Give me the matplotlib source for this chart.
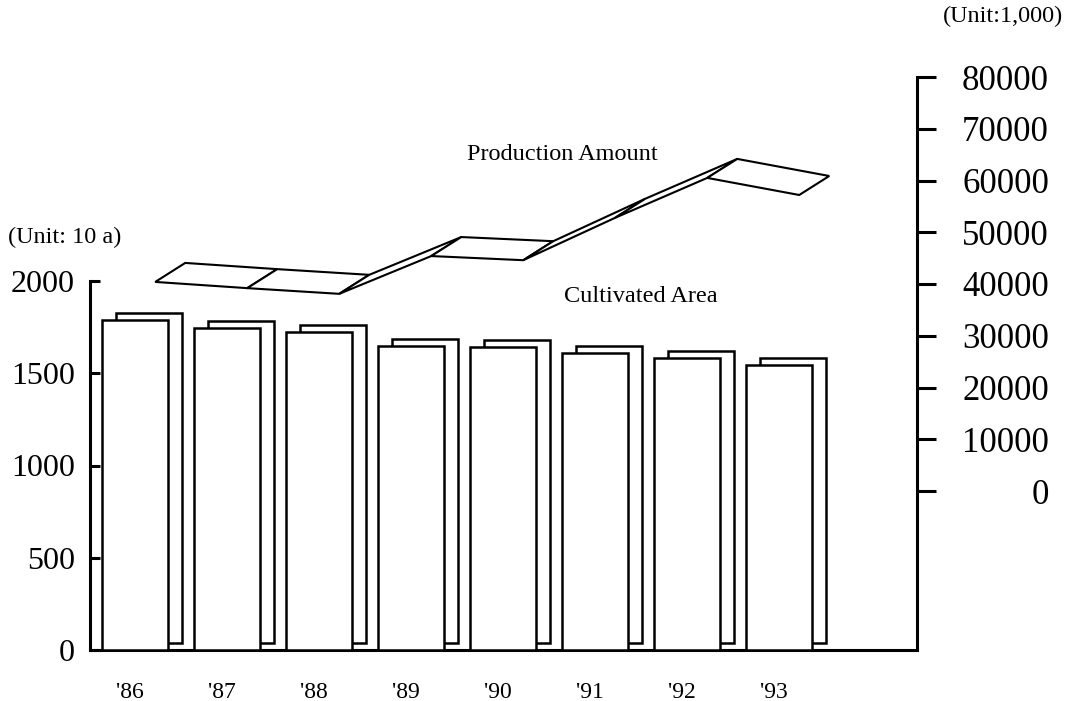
import matplotlib
matplotlib.use("Agg")
import matplotlib.pyplot as plt
import numpy as np
from matplotlib.patches import Rectangle, Polygon
from matplotlib.transforms import ScaledTranslation

# Data
years = ["'86", "'87", "'88", "'89", "'90", "'91", "'92", "'93"]
cultivated_area = [1790, 1745, 1725, 1650, 1640, 1610, 1585, 1545]          # unit: 10 a
production_amount = [40400, 39200, 38100, 45400, 44600, 52800, 60500, 57200]  # unit: 1,000
left_ticks = [0, 500, 1000, 1500, 2000]
right_ticks = [0, 10000, 20000, 30000, 40000, 50000, 60000, 70000, 80000]

plt.rcParams['font.family'] = ['Liberation Serif', 'DejaVu Serif']

W, H = 1069, 701
fig = plt.figure(figsize=(W / 100, H / 100), dpi=100)


def fx(px):
    return px / W


def fy(py):
    return 1 - py / H


# Plot frame (pixel layout of the frame)
x0, x1, y_base, y_top = 90, 917, 650, 77
ax = fig.add_axes([fx(x0), fy(y_base), fx(x1) - fx(x0), fy(y_top) - fy(y_base)])

px_per_cat = 92.0
first_center = 135.0
xmin = -(first_center - x0) / px_per_cat
xmax = xmin + (x1 - x0) / px_per_cat
ax.set_xlim(xmin, xmax)

px_per_left = (650 - 281) / 2000.0
ax.set_ylim(0, (y_base - y_top) / px_per_left)

LW = 1.8
bar_w = 66 / px_per_cat
idx = np.arange(len(years))

# 3D-look bars: a back face shifted up/right, covered by the white front face
depth = ScaledTranslation(0.14, 0.07, fig.dpi_scale_trans)
for i, v in zip(idx, cultivated_area):
    back = Rectangle((i - bar_w / 2, 0), bar_w, v, facecolor='white',
                     edgecolor='black', lw=LW, zorder=2,
                     transform=ax.transData + depth)
    ax.add_patch(back)
    front = Rectangle((i - bar_w / 2, 0), bar_w, v, facecolor='white',
                      edgecolor='black', lw=LW, zorder=3)
    ax.add_patch(front)

# Left axis
for s in ['top', 'right']:
    ax.spines[s].set_visible(False)
ax.spines['left'].set_bounds(0, 2000)
ax.spines['left'].set_linewidth(2.2)
ax.spines['bottom'].set_linewidth(2.2)
ax.set_yticks(left_ticks)
ax.set_yticklabels([str(t) for t in left_ticks])
ax.tick_params(axis='y', direction='in', length=7, width=2.2, labelsize=23, pad=11)
ax.set_xticks(idx - 0.06)
ax.set_xticklabels(years)
ax.tick_params(axis='x', length=0, labelsize=17, pad=23)

# Right axis for production amount
ax2 = ax.twinx()
px_per_right = (491 - 77) / 80000.0
y2min = -(y_base - 491) / px_per_right
ax2.set_ylim(y2min, 80000)
for s in ['top', 'left', 'bottom']:
    ax2.spines[s].set_visible(False)
ax2.spines['right'].set_bounds(y2min, 80000)
ax2.spines['right'].set_linewidth(2.2)
ax2.set_yticks(right_ticks)
ax2.set_yticklabels([str(t) for t in right_ticks])
ax2.tick_params(axis='y', direction='out', length=14, width=2.2, labelsize=25, pad=81)
for lab in ax2.get_yticklabels():
    lab.set_horizontalalignment('right')

# Production amount ribbon (flat 3D line)
xs = idx + 0.22
front_data = np.column_stack([xs, production_amount])
front_pts = ax2.transData.transform(front_data)
back_pts = ax2.transData.inverted().transform(front_pts + np.array([30, 19]))
for k in range(len(xs) - 1):
    poly = Polygon([front_data[k], front_data[k + 1], back_pts[k + 1], back_pts[k]],
                   closed=True, facecolor='white', edgecolor='black', lw=1.5,
                   zorder=4, joinstyle='miter')
    ax2.add_patch(poly)

# Captions
fig.text(fx(562), fy(155), 'Production Amount', ha='center', va='center', fontsize=17.5)
fig.text(fx(641), fy(297), 'Cultivated Area', ha='center', va='center', fontsize=17.5)
fig.text(fx(8), fy(237), '(Unit: 10 a)', ha='left', va='center', fontsize=17.5)
fig.text(fx(1063), fy(16), '(Unit:1,000)', ha='right', va='center', fontsize=17.5)

fig.savefig('out.png', dpi=100, facecolor='white')
